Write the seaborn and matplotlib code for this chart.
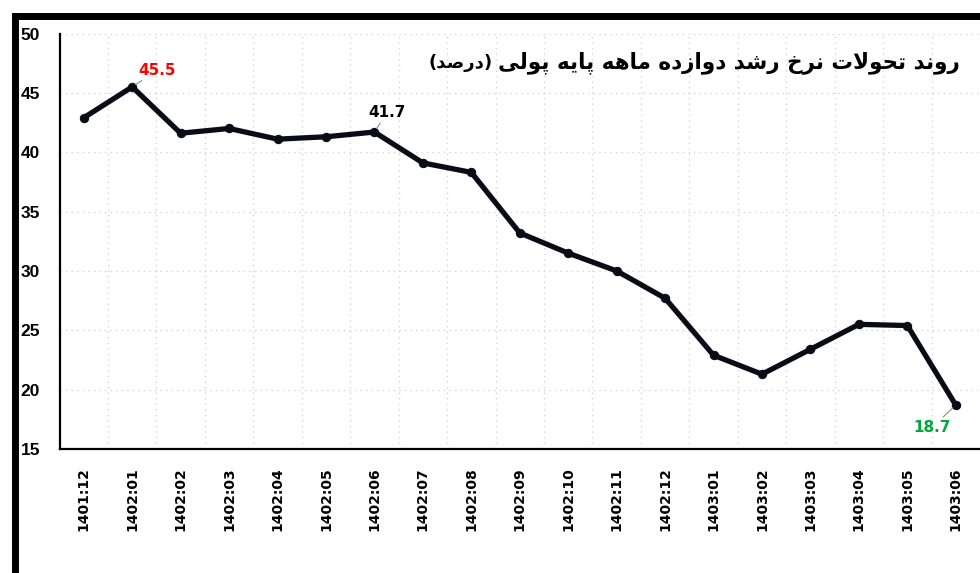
import matplotlib
matplotlib.use('Agg')
import matplotlib.pyplot as plt
import seaborn as sns
import pandas as pd
from matplotlib.patches import Rectangle

# data
months = ['1401:12', '1402:01', '1402:02', '1402:03', '1402:04', '1402:05', '1402:06',
          '1402:07', '1402:08', '1402:09', '1402:10', '1402:11', '1402:12',
          '1403:01', '1403:02', '1403:03', '1403:04', '1403:05', '1403:06']
growth = [42.9, 45.5, 41.6, 42.0, 41.1, 41.3, 41.7,
          39.1, 38.3, 33.2, 31.5, 30.0, 27.7,
          22.9, 21.3, 23.4, 25.5, 25.4, 18.7]
labelled = {'1402:01': '#ff0000', '1402:06': '#000000', '1403:06': '#00a83c'}

title_main = 'روند تحولات نرخ رشد دوازده ماهه پایه پولی'
title_unit = '(درصد)'

# ---------------------------------------------------------------
# small Persian shaper (matplotlib does no shaping / bidi itself)
# ---------------------------------------------------------------
FORMS = {
    'ا': ('\uFE8D', '\uFE8E'),
    'د': ('\uFEA9', '\uFEAA'),
    'ر': ('\uFEAD', '\uFEAE'),
    'ز': ('\uFEAF', '\uFEB0'),
    'و': ('\uFEED', '\uFEEE'),
    'ت': ('\uFE95', '\uFE96', '\uFE97', '\uFE98'),
    'ح': ('\uFEA1', '\uFEA2', '\uFEA3', '\uFEA4'),
    'خ': ('\uFEA5', '\uFEA6', '\uFEA7', '\uFEA8'),
    'ش': ('\uFEB5', '\uFEB6', '\uFEB7', '\uFEB8'),
    'ص': ('\uFEB9', '\uFEBA', '\uFEBB', '\uFEBC'),
    'ل': ('\uFEDD', '\uFEDE', '\uFEDF', '\uFEE0'),
    'م': ('\uFEE1', '\uFEE2', '\uFEE3', '\uFEE4'),
    'ن': ('\uFEE5', '\uFEE6', '\uFEE7', '\uFEE8'),
    'ه': ('\uFEE9', '\uFEEA', '\uFEEB', '\uFEEC'),
    'پ': ('\uFB56', '\uFB57', '\uFB58', '\uFB59'),
    'ی': ('\uFBFC', '\uFBFD', '\uFBFE', '\uFBFF'),
}


def dual(c):
    return c in FORMS and len(FORMS[c]) == 4


def shape(text):
    out = []
    i = 0
    while i < len(text):
        c = text[i]
        prev_join = i > 0 and dual(text[i - 1])
        if c == 'ل' and i + 1 < len(text) and text[i + 1] == 'ا':
            out.append('\uFEFC' if prev_join else '\uFEFB')
            i += 2
            continue
        if c in FORMS:
            f = FORMS[c]
            next_join = dual(c) and i + 1 < len(text) and text[i + 1] in FORMS
            if prev_join and next_join:
                out.append(f[3])
            elif prev_join:
                out.append(f[1])
            elif next_join:
                out.append(f[2])
            else:
                out.append(f[0])
        else:
            out.append(c)
        i += 1
    vis = ''.join(reversed(out))
    return vis.translate(str.maketrans('()', ')('))


df = pd.DataFrame({'month': months, 'growth': growth})

W, H = 980, 573
fig = plt.figure(figsize=(W / 100, H / 100), dpi=100)
fig.patch.set_facecolor('white')

ax = fig.add_axes([59.5 / W, (H - 449) / H, (W - 59.5) / W, (449 - 33.5) / H])

sns.lineplot(data=df, x='month', y='growth', ax=ax, sort=False,
             color='#0b0b18', linewidth=3.8, marker='o', markersize=6,
             markeredgecolor='#0b0b18')

ax.set_xlim(-0.5, len(months) - 0.5)
ax.set_ylim(15, 50)
ax.set_yticks(range(15, 51, 5))
ax.set_xticks(range(len(months)))
ax.set_xticklabels(months, rotation=90, fontsize=10, fontweight='bold',
                   family='DejaVu Sans')
ax.set_yticklabels([str(v) for v in range(15, 51, 5)], fontsize=12.5,
                   fontweight='bold', family=['Liberation Sans', 'DejaVu Sans'])
ax.tick_params(axis='x', length=0, pad=13)
ax.tick_params(axis='y', length=0, pad=14)
ax.set_xlabel('')
ax.set_ylabel('')

# grid: horizontal at each tick, vertical between months
ax.set_xticks([i + 0.5 for i in range(len(months) - 1)], minor=True)
ax.tick_params(axis='x', which='minor', length=0)
ax.grid(axis='y', which='major', color='#d4d4d4', linestyle=(0, (1, 3)), linewidth=1)
ax.grid(axis='x', which='minor', color='#d4d4d4', linestyle=(0, (1, 3)), linewidth=1)
ax.grid(axis='x', which='major', visible=False)

for side in ['top', 'right']:
    ax.spines[side].set_visible(False)
ax.spines['left'].set_linewidth(1.6)
ax.spines['bottom'].set_linewidth(1.6)
ax.spines['left'].set_color('black')
ax.spines['bottom'].set_color('black')

# value labels with gray leader lines
offsets = {'1402:01': (18, 12), '1402:06': (9, 14), '1403:06': (-17, -16)}
for m, col in labelled.items():
    i = months.index(m)
    ax.annotate(f'{growth[i]:.1f}', xy=(i, growth[i]), xytext=offsets[m],
                textcoords='offset points', ha='center', va='center',
                fontsize=11, fontweight='bold', color=col,
                arrowprops=dict(arrowstyle='-', color='#8a8a8a', lw=0.8,
                                shrinkA=0, shrinkB=3))

# title inside the plot, top right
t1 = fig.text(960 / W, 1 - 68 / H, shape(title_main), ha='right', va='baseline',
              fontsize=15.5, fontweight='bold', family='DejaVu Sans')
fig.canvas.draw()
bb = t1.get_window_extent()
fig.text((bb.x0 - 6) / W, 1 - 68 / H, shape(title_unit), ha='right', va='baseline',
         fontsize=13, fontweight='bold', family='DejaVu Sans')

# thick black outer frame (right side runs off the image)
fig.add_artist(Rectangle((15 / W, 1 - 574.5 / H), (W + 20) / W, (574.5 - 15.5) / H,
                         transform=fig.transFigure, fill=False,
                         edgecolor='black', linewidth=5))

fig.savefig('out.png', dpi=100)
